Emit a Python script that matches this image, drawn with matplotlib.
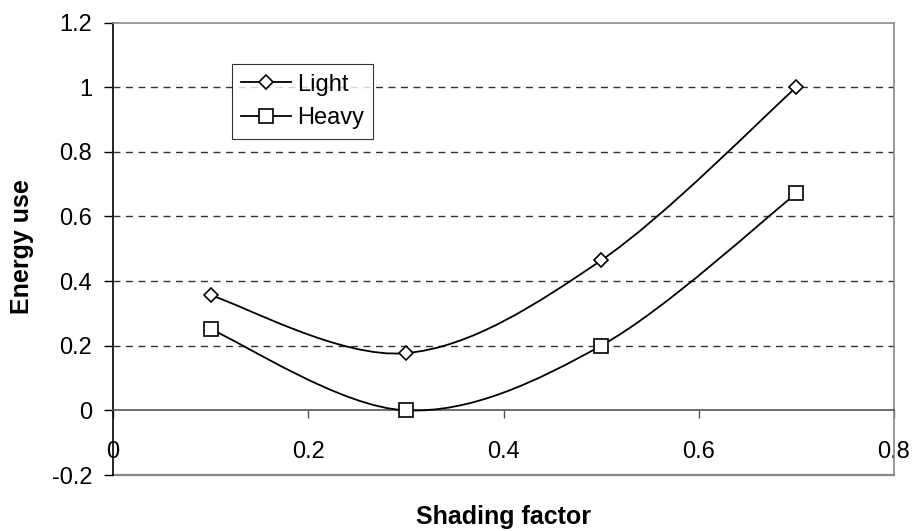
import matplotlib.pyplot as plt
import numpy as np
from matplotlib.path import Path
from matplotlib.patches import PathPatch

plt.rcParams['font.family'] = ['Liberation Sans', 'DejaVu Sans']

shading = [0.1, 0.3, 0.5, 0.7]
light = [0.356, 0.177, 0.464, 1.0]
heavy = [0.251, 0.0, 0.2, 0.671]
xticks = [0, 0.2, 0.4, 0.6, 0.8]
yticks = [-0.2, 0, 0.2, 0.4, 0.6, 0.8, 1, 1.2]


def smooth_path(xs, ys):
    """Bezier path through the points, like a spreadsheet 'smoothed line'."""
    pts = np.column_stack([xs, ys])
    n = len(pts)
    verts = [pts[0]]
    codes = [Path.MOVETO]
    for i in range(n - 1):
        p0 = pts[max(i - 1, 0)]
        p1 = pts[i]
        p2 = pts[i + 1]
        p3 = pts[min(i + 2, n - 1)]
        c1 = p1 + (p2 - p0) / 6.0
        c2 = p2 - (p3 - p1) / 6.0
        verts += [c1, c2, p2]
        codes += [Path.CURVE4] * 3
    return Path(verts, codes)


fig = plt.figure(figsize=(9.15, 5.31), dpi=100)
ax = fig.add_axes([113 / 915, 56 / 531, 781 / 915, 452.5 / 531])

ax.set_xlim(0, 0.8)
ax.set_ylim(-0.2, 1.2)

for vals, marker, ms, label in [(light, 'D', 7, 'Light'), (heavy, 's', 10.5, 'Heavy')]:
    ax.add_patch(PathPatch(smooth_path(shading, vals), facecolor='none',
                           edgecolor='black', lw=1.3, zorder=3))
    ax.plot(shading, vals, linestyle='none', marker=marker, markersize=ms,
            markerfacecolor='white', markeredgecolor='black', markeredgewidth=1.2,
            zorder=4)
    # empty line so the legend shows line + marker
    ax.plot([], [], color='black', lw=1.3, marker=marker, markersize=ms,
            markerfacecolor='white', markeredgecolor='black', markeredgewidth=1.2,
            label=label)

# dashed gridlines
for y in [0.2, 0.4, 0.6, 0.8, 1.0]:
    ax.axhline(y, color='#333333', lw=1.0, dashes=(5, 4), zorder=1)

# x axis sits on y = 0
ax.spines['bottom'].set_position(('data', 0))
ax.spines['bottom'].set_color('#555555')
ax.spines['left'].set_color('black')
ax.spines['top'].set_color('#888888')
ax.spines['right'].set_color('#888888')
ax.axhline(-0.2, color='#888888', lw=1.6, zorder=0, clip_on=False)
for s in ax.spines.values():
    s.set_linewidth(1.2)

ax.set_xticks(xticks)
ax.set_xticklabels(['0', '0.2', '0.4', '0.6', '0.8'])
ax.set_yticks(yticks)
ax.set_yticklabels(['-0.2', '0', '0.2', '0.4', '0.6', '0.8', '1', '1.2'])
ax.tick_params(axis='x', direction='out', length=5.8, width=1, pad=16, labelsize=17,
               color='#555555')
ax.tick_params(axis='y', direction='out', length=6.5, width=1, pad=8.5, labelsize=17)

leg = ax.legend(loc='upper left', bbox_to_anchor=(0.152, 0.908), fontsize=17,
                frameon=True, fancybox=False, handlelength=2.1, handletextpad=0.25,
                borderpad=0.4, labelspacing=0.5, borderaxespad=0)
leg.get_frame().set_edgecolor('black')
leg.get_frame().set_linewidth(0.8)

fig.text(503 / 915, 1 - 517 / 531, 'Shading factor', ha='center', va='center',
         fontsize=18, fontweight='bold')
fig.text(22 / 915, 1 - 247 / 531, 'Energy use', ha='center', va='center',
         rotation=90, fontsize=18, fontweight='bold')

fig.savefig('out.png', dpi=100)
